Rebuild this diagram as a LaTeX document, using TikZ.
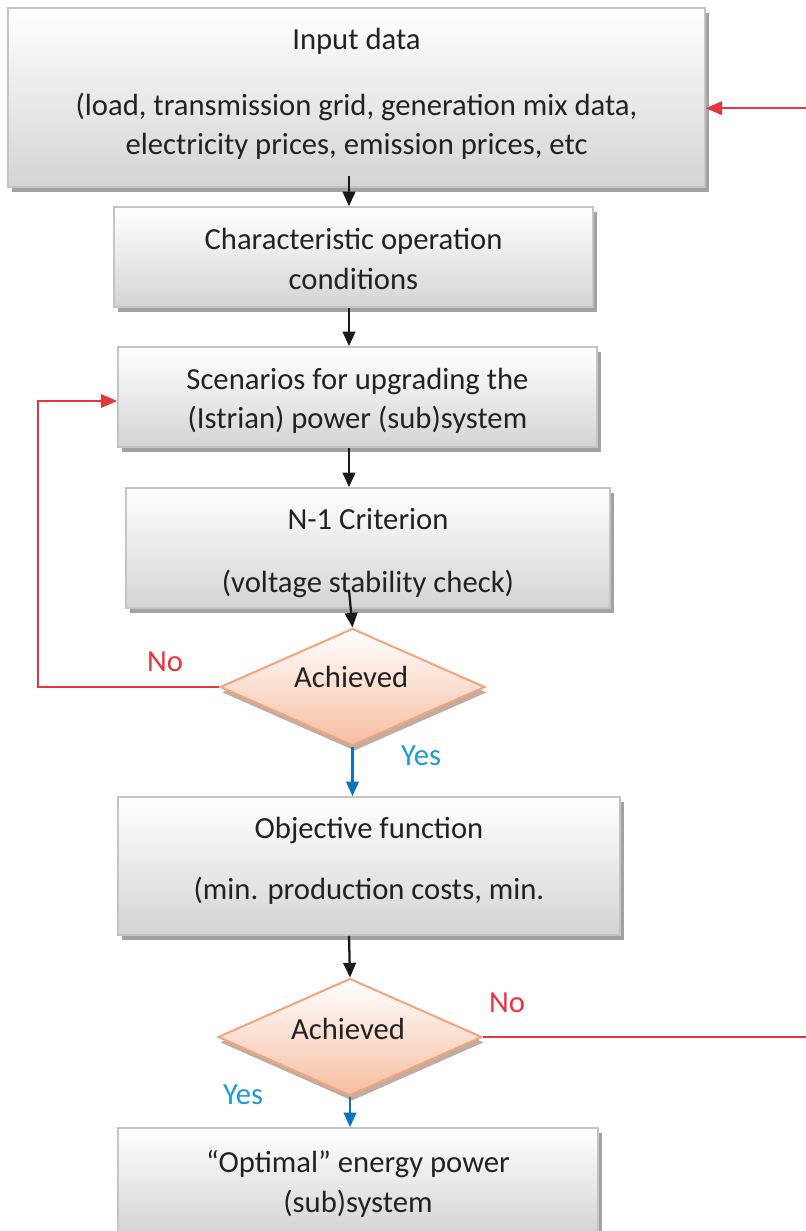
\documentclass[tikz,border=0pt]{standalone}
\usepackage{fontspec}
\setmainfont{Carlito}
\usetikzlibrary{arrows.meta,shapes.geometric,shadows,calc}
\definecolor{boxline}{HTML}{C4C4C4}
\definecolor{boxbot}{HTML}{D3D4D3}
\definecolor{shadowgray}{HTML}{A2A2A2}
\definecolor{diaLine}{HTML}{F4A47C}
\definecolor{diaBot}{HTML}{F7BDA0}
\definecolor{noRed}{HTML}{E8343C}
\definecolor{yesBlue}{HTML}{1E9BD7}
\definecolor{arrBlue}{HTML}{0A72C0}
\definecolor{txt}{HTML}{222222}
\tikzset{
  px/.style={x=0.75pt,y=-0.75pt},
  flowbox/.style={rectangle, draw=boxline, line width=1.2pt, shading=axis, top color=white, bottom color=boxbot,
    drop shadow={shadow xshift=3pt, shadow yshift=-3.5pt, fill=shadowgray, opacity=1},
    inner sep=0pt},
  boxtext/.style={align=center, text=txt, inner sep=0pt, font=\fontsize{23}{29}\selectfont},
  boxtextwide/.style={align=center, text=txt, inner sep=0pt, font=\fontsize{23}{30}\selectfont},
  decision/.style={diamond, draw=diaLine, line width=1.5pt, shading=axis, top color=white, bottom color=diaBot,
    drop shadow={shadow xshift=1.5pt, shadow yshift=-4pt, fill=gray!60!diaBot, opacity=0.8},
    aspect=2.26, inner sep=0pt},
  flow/.style={line width=1.7pt, black!90, -{Triangle[length=11pt,width=9.5pt]}},
  yesflow/.style={line width=1.7pt, arrBlue, -{Triangle[length=11pt,width=9.5pt]}},
  noflow/.style={line width=1.4pt, noRed},
  nolabel/.style={text=noRed, font=\fontsize{23}{29}\selectfont},
  yeslabel/.style={text=yesBlue, font=\fontsize{23}{29}\selectfont},
}
\begin{document}
\begin{tikzpicture}[px]
\useasboundingbox (0,0) rectangle (806,1231);
\clip (0,0) rectangle (806,1231);
\coordinate (axis) at (349,0);
\coordinate (loopx) at (38,0);
\coordinate (edge) at (810,0);

\node[flowbox, minimum width={697*0.75pt}, minimum height={179*0.75pt},
  label={[boxtext, name=inputt, yshift=3pt]center:{Input data\\[20.5pt](load, transmission grid, generation mix data,\\electricity prices, emission prices, etc}}] (input) at (356.5,97.5) {};
\node[flowbox, minimum width={479*0.75pt}, minimum height={100*0.75pt},
  label={[boxtextwide, name=chart, yshift=-1.5pt]center:{Characteristic operation\\conditions}}] (char) at (353.5,257) {};
\node[flowbox, minimum width={479*0.75pt}, minimum height={100*0.75pt},
  label={[boxtext, name=scent, yshift=-3pt]center:{Scenarios for upgrading the\\(Istrian) power (sub)system}}] (scen) at (357.5,397) {};
\node[flowbox, minimum width={484*0.75pt}, minimum height={120*0.75pt},
  label={[boxtext, name=critt, yshift=-3.75pt]center:{N-1 Criterion\\[18.5pt](voltage stability check)}}] (crit) at (368,548) {};
\node[decision, minimum width={265*0.75pt}, minimum height={117*0.75pt},
  label={[boxtext, name=ach1t, yshift=7.5pt, xshift=-1pt]center:Achieved}] (ach1) at (352.5,687) {};
\node[flowbox, minimum width={502*0.75pt}, minimum height={138*0.75pt},
  label={[boxtext, name=objt, yshift=4pt]center:{Objective function\\[16.75pt](min. production costs, min.}}] (obj) at (369,866) {};
\node[decision, minimum width={264*0.75pt}, minimum height={117*0.75pt},
  label={[boxtext, name=ach2t, yshift=6pt, xshift=-1.5pt]center:Achieved}] (ach2) at (350,1037) {};
\node[flowbox, minimum width={480*0.75pt}, minimum height={106*0.75pt},
  label={[boxtextwide, name=optt, yshift=-2.25pt]center:{``Optimal'' energy power\\(sub)system}}] (opt) at (358,1181) {};

% main flow
\draw[flow] ([yshift=9pt]input.south -| axis) -- (char.north -| axis);
\draw[flow] (char.south -| axis) -- (scen.north -| axis);
\draw[flow] (scen.south -| axis) -- (crit.north -| axis);
\draw[flow] ([yshift=14pt]crit.south -| axis) -- (ach1.north);
\draw[yesflow] (ach1.south) -- (obj.north -| ach1.south);
\draw[flow] (obj.south -| axis) -- (ach2.north);
\draw[yesflow] (ach2.south) -- (opt.north -| ach2.south);

% loops
\draw[noflow, -{Triangle[length=12pt,width=10pt]}] (ach1.west) -- (ach1.west -| loopx) |- ([yshift=-3pt]scen.west);
\draw[noflow] (ach2.east) -- (ach2.east -| edge);
\draw[noflow, -{Triangle[length=12pt,width=10pt]}] ([yshift=-8pt]input.east -| edge) -- ([yshift=-8pt]input.east);

% labels
\node[nolabel] (no1) at (165,662) {No};
\node[yeslabel] (yes1) at (421,756) {Yes};
\node[nolabel] (no2) at (507,1003) {No};
\node[yeslabel] (yes2) at (243,1095) {Yes};
\end{tikzpicture}
\end{document}
